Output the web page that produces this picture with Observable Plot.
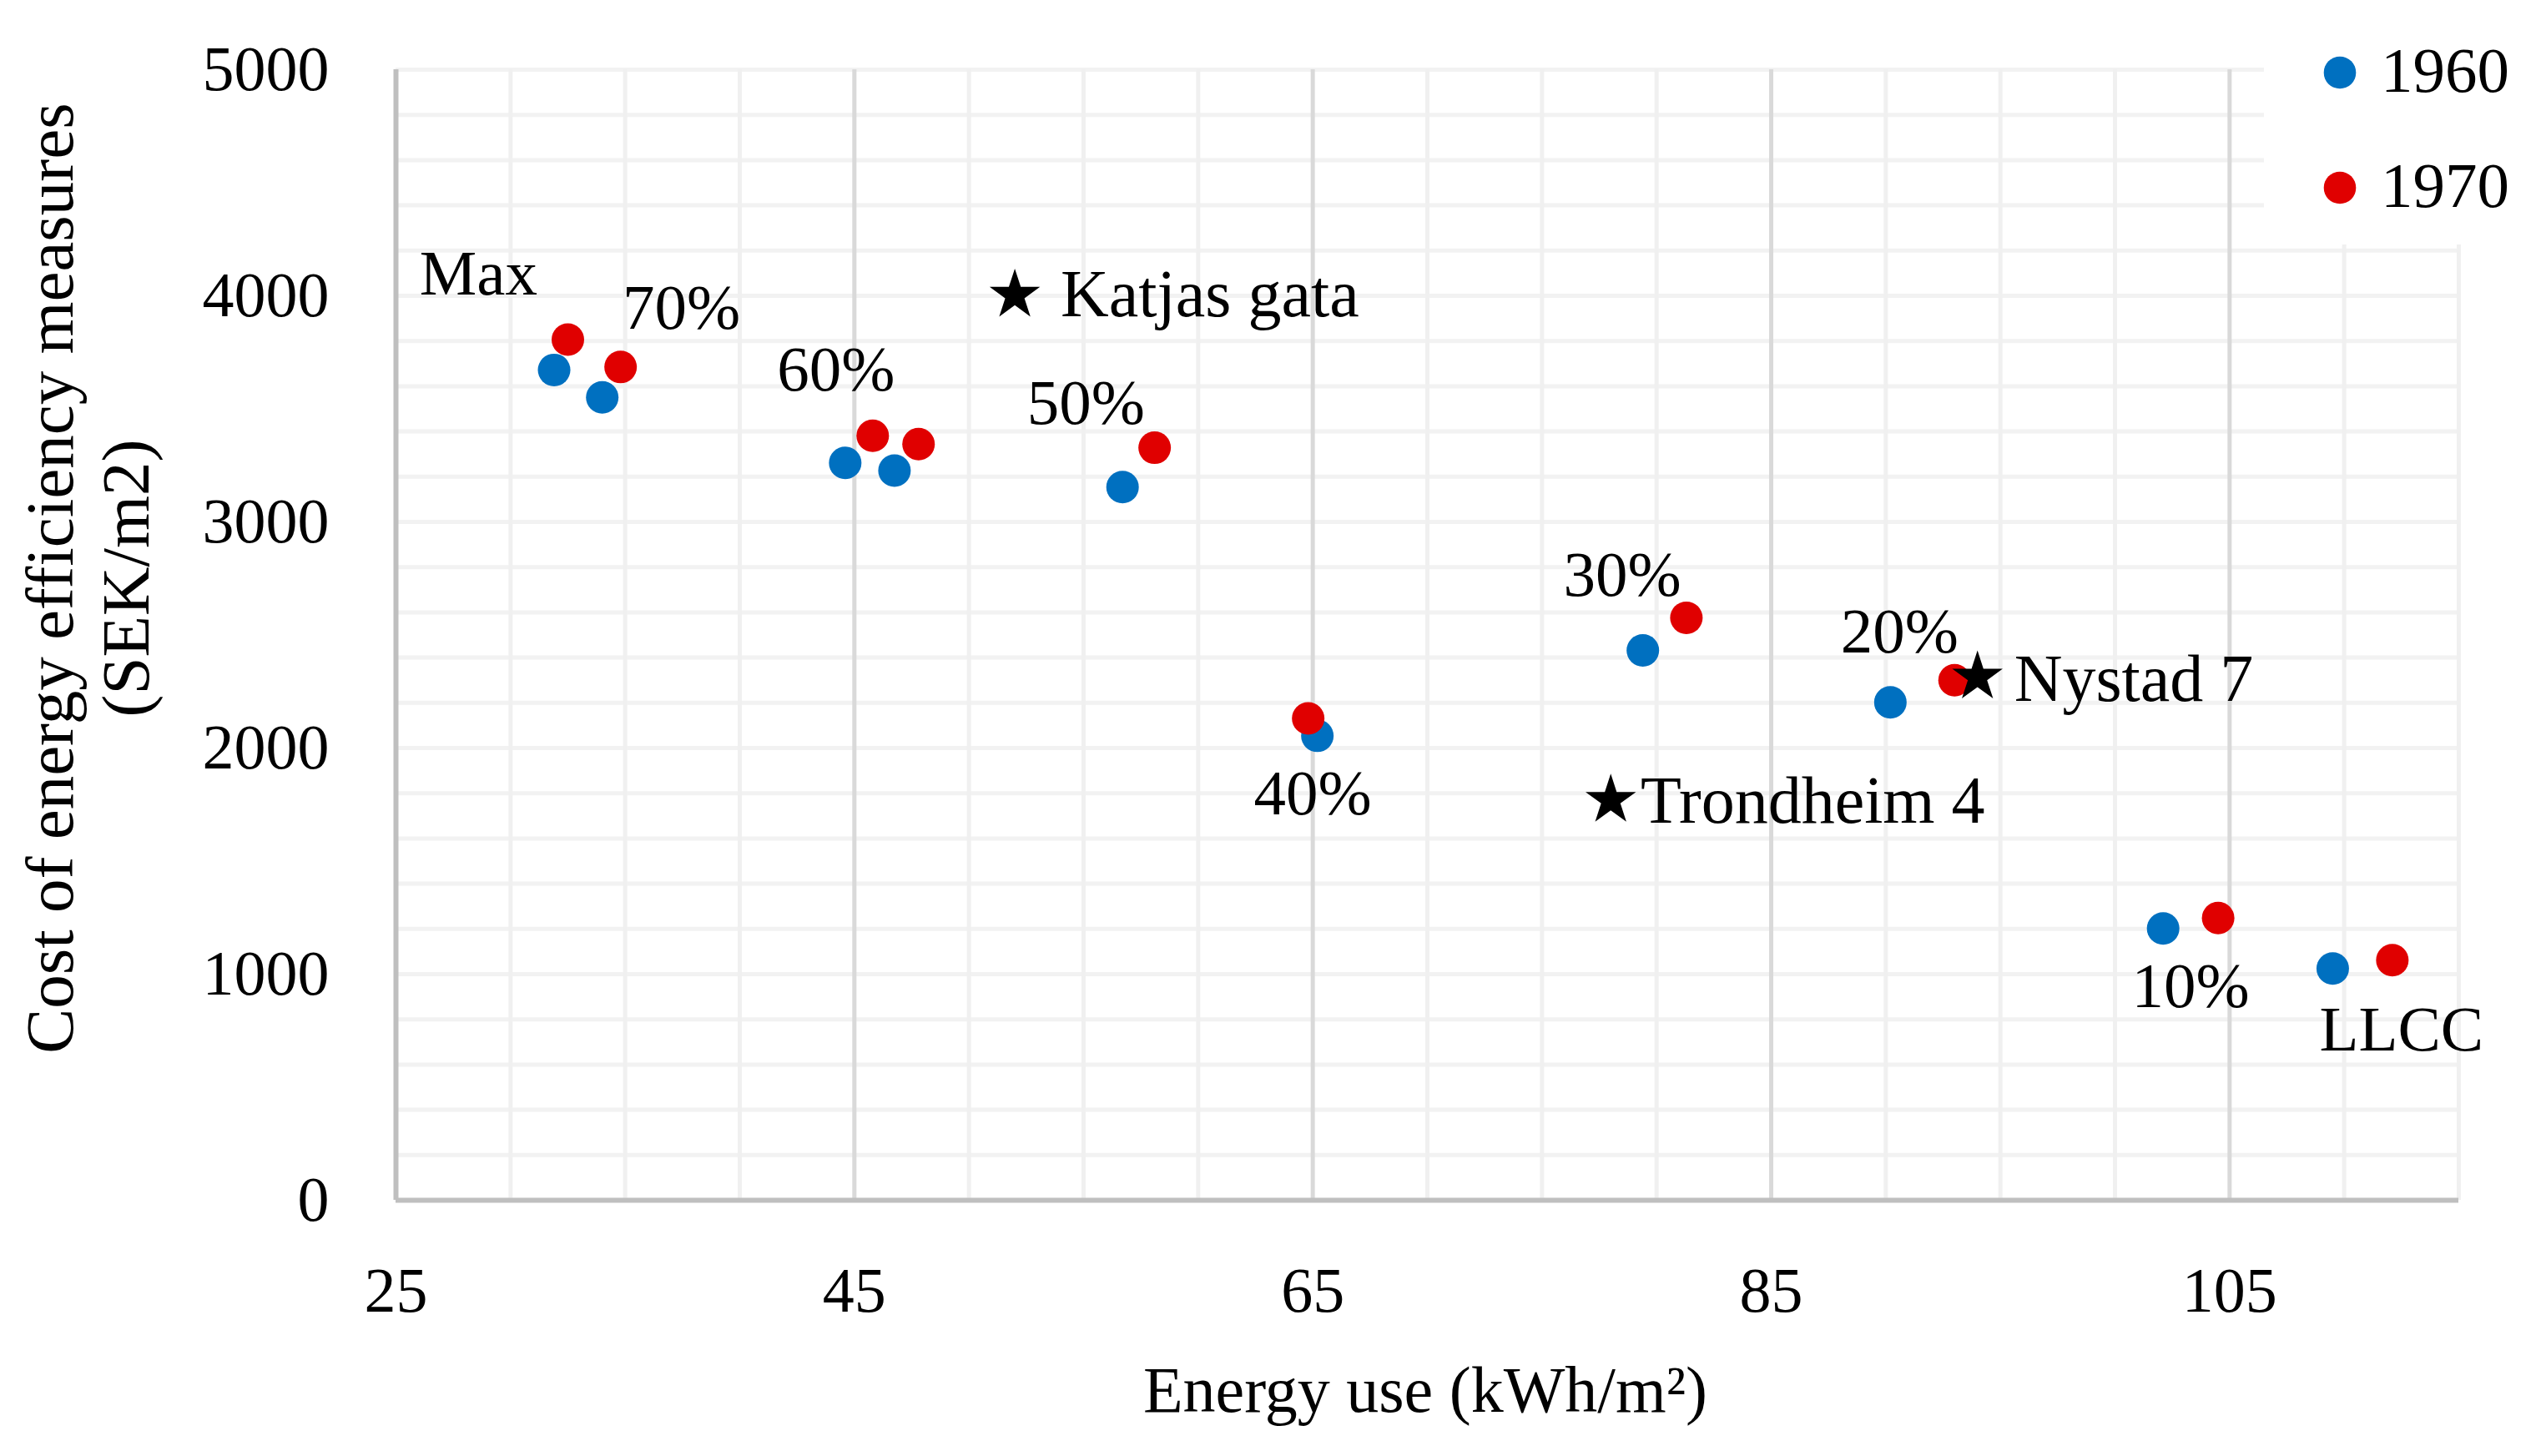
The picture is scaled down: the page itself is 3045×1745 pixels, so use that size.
<!DOCTYPE html>
<html>
<head>
<meta charset="utf-8">
<script src="https://cdn.jsdelivr.net/npm/d3@7"></script>
<script src="https://cdn.jsdelivr.net/npm/@observablehq/plot@0.6"></script>
<style>
  html, body { margin: 0; padding: 0; background: #fff; overflow: hidden; }
  #chart { position: relative; width: 3045px; height: 1745px; }
  #chart svg { display: block; }
  #legend { position: absolute; left: 2713px; top: 0px; width: 332px; height: 293px; background: #fff; }
</style>
</head>
<body>
<div id="chart"></div>
<script>
// ---- data ----
const series = ["1960", "1970"];
const seriesColors = ["#0070c0", "#e00000"];

const energy1960 = [31.9, 34.0, 44.6, 46.75, 56.7, 65.2, 79.4, 90.2, 102.1, 109.5];
const cost1960   = [3672, 3551, 3261, 3227, 3154, 2054, 2432, 2202, 1202, 1025];
const energy1970 = [32.5, 34.8, 45.8, 47.8, 58.1, 64.8, 81.3, 93.0, 104.5, 112.1];
const cost1970   = [3806, 3685, 3381, 3344, 3328, 2131, 2576, 2300, 1248, 1062];

const buildingNames  = ["Katjas gata", "Trondheim 4", "Nystad 7"];
const buildingEnergy = [52.0, 78.0, 94.0];
const buildingCost   = [4003, 1769, 2314];
const buildingLabelEnergy = [54.0, 79.3, 95.6];
const buildingLabelCost   = [3908, 1670, 2209];

const scenarioLabels = ["Max", "70%", "60%", "50%", "40%", "30%", "20%", "10%", "LLCC"];
const scenarioLabelEnergy = [28.6, 37.45, 44.2, 55.1, 65.0, 78.5, 90.6, 103.3, 112.5];
const scenarioLabelCost   = [4007, 3856, 3583, 3435, 1705, 2672, 2421, 853, 664];

const xTicks = [25, 45, 65, 85, 105];
const yTicks = [0, 1000, 2000, 3000, 4000, 5000];
const xMinorTicks = [30, 35, 40, 50, 55, 60, 70, 75, 80, 90, 95, 100, 110, 115];
const yMinorTicks = d3.range(200, 5001, 200);

const xTitle = "Energy use (kWh/m²)";
const yTitleLines = ["Cost of energy efficiency measures", "(SEK/m2)"];

// ---- tables ----
const points = [
  ...energy1960.map((e, i) => ({series: series[0], energy: e, cost: cost1960[i]})),
  ...energy1970.map((e, i) => ({series: series[1], energy: e, cost: cost1970[i]}))
];
const buildings = buildingNames.map((n, i) => ({
  name: n, energy: buildingEnergy[i], cost: buildingCost[i],
  labelEnergy: buildingLabelEnergy[i], labelCost: buildingLabelCost[i]
}));
const scenarios = scenarioLabels.map((l, i) => ({label: l, energy: scenarioLabelEnergy[i], cost: scenarioLabelCost[i]}));

const FONT = "'Liberation Serif', 'Times New Roman', serif";

const svgNode = Plot.plot({
  width: 3045,
  height: 1745,
  marginLeft: 474,
  marginRight: 99,
  marginTop: 83,
  marginBottom: 307,
  style: {fontFamily: FONT, fontSize: "76px", color: "#000", background: "#fff"},
  x: {domain: [25, 115]},
  y: {domain: [0, 5000]},
  color: {domain: series, range: seriesColors},
  marks: [
    Plot.gridY(yMinorTicks, {stroke: "#f2f2f2", strokeOpacity: 1, strokeWidth: 5}),
    Plot.gridX(xMinorTicks, {stroke: "#f0f0f0", strokeOpacity: 1, strokeWidth: 5}),
    Plot.gridX(xTicks, {stroke: "#d9d9d9", strokeOpacity: 1, strokeWidth: 5}),
    Plot.ruleX([25], {stroke: "#bfbfbf", strokeWidth: 6}),
    Plot.ruleY([0], {stroke: "#bfbfbf", strokeWidth: 6}),
    Plot.axisX(xTicks, {tickSize: 0, tickPadding: 80, label: null, fontSize: 76, tickFormat: d => String(d)}),
    Plot.axisY(yTicks, {tickSize: 0, tickPadding: 80, label: null, fontSize: 76, tickFormat: d => String(d)}),
    Plot.dot(points, {x: "energy", y: "cost", fill: "series", r: 19.5}),
    Plot.dot(buildings, {x: "energy", y: "cost", symbol: "star", fill: "#000", r: 19}),
    Plot.text(scenarios, {x: "energy", y: "cost", text: "label", textAnchor: "middle", lineAnchor: "bottom", fontSize: 77}),
    Plot.text(buildings, {x: "labelEnergy", y: "labelCost", text: "name", textAnchor: "start", lineAnchor: "bottom", fontSize: 80})
  ]
});

const chart = document.getElementById("chart");
chart.appendChild(svgNode);

// axis titles
const svg = d3.select(svgNode);
svg.append("text")
  .attr("x", 1708).attr("y", 1692)
  .attr("text-anchor", "middle")
  .attr("fill", "#000")
  .style("font-size", "78px")
  .style("font-family", FONT)
  .text(xTitle);

yTitleLines.forEach((line, i) => {
  svg.append("text")
    .attr("transform", `translate(${87 + i * 91},693) rotate(-90)`)
    .attr("text-anchor", "middle")
    .attr("fill", "#000")
    .style("font-size", "81px")
    .style("font-family", FONT)
    .text(line);
});

// legend (overlaying the plot's top-right corner, white background)
const legend = d3.select(chart).append("div").attr("id", "legend");
const lsvg = legend.append("svg").attr("width", 332).attr("height", 293);
series.forEach((s, i) => {
  lsvg.append("circle").attr("cx", 91).attr("cy", 87 + i * 138).attr("r", 19.3).attr("fill", seriesColors[i]);
  lsvg.append("text").attr("x", 140).attr("y", 110 + i * 138)
    .attr("fill", "#000")
    .style("font-size", "77px")
    .style("font-family", FONT)
    .text(s);
});
</script>
</body>
</html>
